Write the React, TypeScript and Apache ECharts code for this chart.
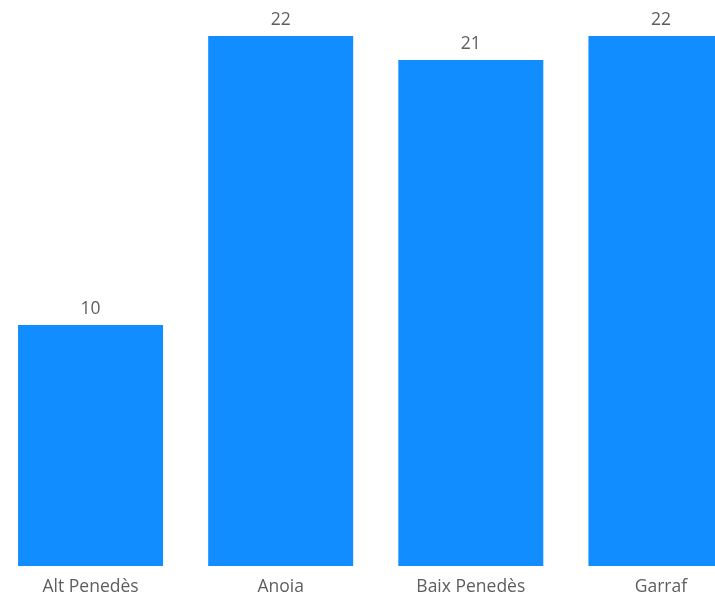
import React, { useEffect, useRef } from "react";
import * as echarts from "echarts";

const categories = ["Alt Penedès", "Anoia", "Baix Penedès", "Garraf"];
const values = [10, 22, 21, 22];

export default function App() {
  const ref = useRef<HTMLDivElement>(null);
  useEffect(() => {
    if (!ref.current) return;
    const chart = echarts.init(ref.current, undefined, { renderer: "svg" });
    chart.setOption({
      animation: false,
      grid: { left: 0.5, right: 0, top: 36, bottom: 32, containLabel: false },
      xAxis: {
        type: "category",
        data: categories,
        axisLine: { show: false },
        axisTick: { show: false },
        axisLabel: {
          color: "#605E5C",
          fontSize: 17.5,
          fontFamily: "Open Sans",
          margin: 10,
        },
      },
      yAxis: {
        type: "value",
        min: 0,
        max: 22,
        show: false,
        splitLine: { show: false },
      },
      series: [
        {
          type: "bar",
          data: values,
          barWidth: 145,
          itemStyle: { color: "#118DFF" },
          label: {
            show: true,
            position: "top",
            distance: 9,
            color: "#605E5C",
            fontSize: 17.5,
            fontFamily: "Open Sans",
          },
        },
      ],
    });
    return () => chart.dispose();
  }, []);
  return (
    <div
      style={{ position: "fixed", left: 0, top: 0, width: 715, height: 598, overflow: "hidden" }}
    >
      <div
        ref={ref}
        style={{ position: "absolute", left: -5, top: 0, width: 760.5, height: 598 }}
      />
    </div>
  );
}
